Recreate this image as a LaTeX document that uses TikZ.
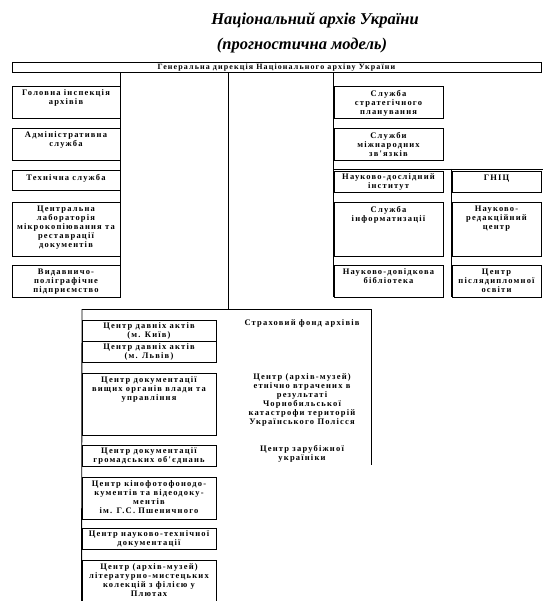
\documentclass[tikz,border=0pt]{standalone}
\usepackage{fontspec}
\setmainfont{Liberation Serif}
\newfontfamily\boxfont[LetterSpace=14]{Liberation Serif}
\usetikzlibrary{positioning}

\begin{document}
\begin{tikzpicture}[x=1pt,y=-1pt,line width=0.9pt]
    \tikzstyle{unit}=[draw, rectangle, inner sep=0pt, fill=none]
    \tikzstyle{txt}=[text=black, align=center, inner sep=2.5pt, font=\boxfont\bfseries\fontsize{8.5}{9}\selectfont]
    \tikzstyle{title}=[text=black, inner sep=0pt, font=\fontsize{16.5}{18}\selectfont\bfseries\itshape]
    \tikzstyle{link}=[-, line width=0.9pt]

    \useasboundingbox (0,0) rectangle (543,601);

    % heading
    \node[title] (head) at (315,20) {Національний архів України};
    \node[title] (sub)  at (302,46) {(прогностична модель)};

    \node[unit, minimum width=529, minimum height=10, text height=5.5pt, text depth=1.5pt,
          font=\boxfont\bfseries\fontsize{8}{9}\selectfont]
        (gen) at (276.5,67.5) {Генеральна дирекція Національного архіву України};

    % left column
    \node[unit, minimum width=108, minimum height=32] (insp) at (66,102) {};
    \node[unit, minimum width=108, minimum height=32] (adm)  at (66,144) {};
    \node[unit, minimum width=108, minimum height=20] (tech) at (66,180) {};
    \node[unit, minimum width=108, minimum height=54] (lab)  at (66,229) {};
    \node[unit, minimum width=108, minimum height=32] (pub)  at (66,281) {};
    \node[txt, below=1.5pt of insp.north] (insp-t) {Головна інспекція\\архівів};
    \node[txt, below=1.5pt of adm.north]  (adm-t)  {Адміністративна\\служба};
    \node[txt, below=1.5pt of tech.north] (tech-t) {Технічна служба};
    \node[txt, below=1.5pt of lab.north]  (lab-t)  {Центральна\\лабораторія\\мікрокопіювання та\\реставрації\\документів};
    \node[txt, below=1.5pt of pub.north]  (pub-t)  {Видавничо-\\поліграфічне\\підприємство};

    % right columns
    \node[unit, minimum width=109, minimum height=32] (plan) at (388.5,102) {};
    \node[unit, minimum width=109, minimum height=32] (intl) at (388.5,144) {};
    \node[unit, minimum width=109, minimum height=21] (inst) at (388.5,181.5) {};
    \node[unit, minimum width=109, minimum height=54] (inf)  at (388.5,229) {};
    \node[unit, minimum width=109, minimum height=32] (lib)  at (388.5,281) {};
    \node[unit, minimum width=89,  minimum height=21] (gnic) at (496.5,181.5) {};
    \node[unit, minimum width=89,  minimum height=54] (edit) at (496.5,229) {};
    \node[unit, minimum width=89,  minimum height=32] (grad) at (496.5,281) {};
    \node[txt, below=1.5pt of plan.north] (plan-t) {Служба\\стратегічного\\планування};
    \node[txt, below=1.5pt of intl.north] (intl-t) {Служби\\міжнародних\\зв'язків};
    \node[txt, below=0pt of inst.north]   (inst-t) {Науково-дослідний\\інститут};
    \node[txt, below=1.5pt of inf.north]  (inf-t)  {Служба\\інформатизації};
    \node[txt, below=1.5pt of lib.north]  (lib-t)  {Науково-довідкова\\бібліотека};
    \node[txt, below=1.5pt of gnic.north] (gnic-t) {ГНІЦ};
    \node[txt, below=1.5pt of edit.north] (edit-t) {Науково-\\редакційний\\центр};
    \node[txt, below=1.5pt of grad.north] (grad-t) {Центр\\післядипломної\\освіти};

    % lower group
    \node[unit, minimum width=134, minimum height=21] (kyiv)   at (149,330.5) {};
    \node[unit, minimum width=134, minimum height=21] (lviv)   at (149,351.5) {};
    \node[unit, minimum width=134, minimum height=62] (top)    at (149,404) {};
    \node[unit, minimum width=134, minimum height=21] (civ)    at (149,455.5) {};
    \node[unit, minimum width=134, minimum height=42] (film)   at (149,498) {};
    \node[unit, minimum width=134, minimum height=21] (sci)    at (149,538.5) {};
    \node[unit, minimum width=134, minimum height=46] (museum) at (149,583) {};
    \node[txt, below=0pt of kyiv.north]     (kyiv-t)   {Центр давніх актів\\(м. Київ)};
    \node[txt, below=0pt of lviv.north]     (lviv-t)   {Центр давніх актів\\(м. Львів)};
    \node[txt, below=1.5pt of top.north]    (top-t)    {Центр документації\\вищих органів влади та\\управління};
    \node[txt, below=0pt of civ.north]      (civ-t)    {Центр документації\\громадських об'єднань};
    \node[txt, below=1pt of film.north]     (film-t)   {Центр кінофотофонодо-\\кументів та відеодоку-\\ментів\\ім. Г.С. Пшеничного};
    \node[txt, below=0pt of sci.north]      (sci-t)    {Центр науково-технічної\\документації};
    \node[txt, below=1.5pt of museum.north] (museum-t) {Центр (архів-музей)\\літературно-мистецьких\\колекцій з філією у\\Плютах};

    \node[txt] (fund)  at (302,323)   {Страховий фонд архівів};
    \node[txt] (chern) at (302,399.5) {Центр (архів-музей)\\етнічно втрачених в\\результаті\\Чорнобильської\\катастрофи територій\\Українського Полісся};
    \node[txt] (diasp) at (302,454)   {Центр зарубіжної\\україніки};

    % connectors
    \coordinate (mid)    at (228,309);
    \coordinate (bus-w)  at (82,309);
    \coordinate (bus-e)  at (371,309);
    \coordinate (side-e) at (371,465);
    \coordinate (fork-w) at (334,169);
    \coordinate (fork-e) at (543,169);

    \draw[link] (gen.south -| insp.east) -- (pub.south east);
    \draw[link] (gen.south -| plan.west) -- (lib.south west);
    \draw[link] (gen.south -| mid) -- (mid);
    \draw[link] (fork-w) -- (fork-e);
    \draw[link] (gnic.north west |- fork-w) -- (grad.south west);
    \draw[link] (bus-w) -- (bus-e);
    \draw[link] (bus-w) -- (museum.south west);
    \draw[link] (bus-e) -- (side-e);
\end{tikzpicture}
\end{document}
